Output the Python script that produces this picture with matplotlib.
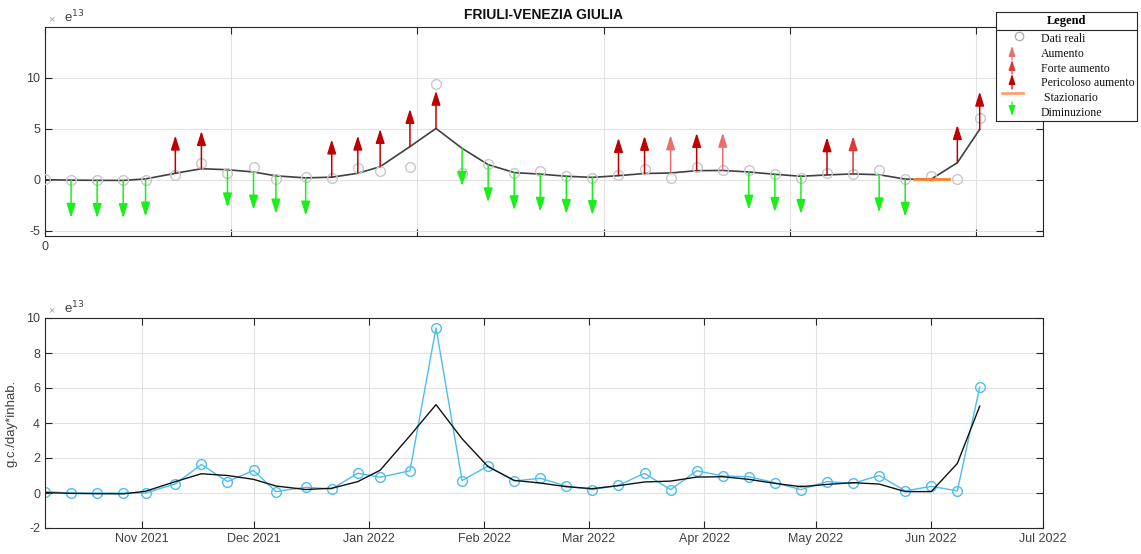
import matplotlib.pyplot as plt
import matplotlib.dates as mdates
import numpy as np
import pandas as pd

plt.rcParams['font.family'] = ['Liberation Sans', 'DejaVu Sans']
plt.rcParams['axes.unicode_minus'] = False

# weekly sampling dates
dates = pd.to_datetime([
    '2021-10-06', '2021-10-13', '2021-10-20', '2021-10-27', '2021-11-02', '2021-11-10',
    '2021-11-17', '2021-11-24', '2021-12-01', '2021-12-07', '2021-12-15', '2021-12-22',
    '2021-12-29', '2022-01-04', '2022-01-12', '2022-01-19', '2022-01-26', '2022-02-02',
    '2022-02-09', '2022-02-16', '2022-02-23', '2022-03-02', '2022-03-09', '2022-03-16',
    '2022-03-23', '2022-03-30', '2022-04-06', '2022-04-13', '2022-04-20', '2022-04-27',
    '2022-05-04', '2022-05-11', '2022-05-18', '2022-05-25', '2022-06-01', '2022-06-08',
    '2022-06-14'])

# values in units of 1e13
dati_reali = [0.08, 0.00, 0.00, 0.00, 0.00, 0.52, 1.63, 0.65, 1.29, 0.08, 0.33, 0.23,
              1.13, 0.90, 1.27, 9.44, 0.71, 1.55, 0.69, 0.84, 0.40, 0.19, 0.44, 1.12,
              0.19, 1.27, 0.97, 0.93, 0.59, 0.19, 0.65, 0.55, 1.00, 0.12, 0.38, 0.12,
              6.05]
trend = [0.02, -0.02, -0.04, -0.05, 0.10, 0.65, 1.10, 1.00, 0.78, 0.40, 0.20, 0.27,
         0.65, 1.30, 3.27, 5.05, 3.10, 1.50, 0.72, 0.57, 0.36, 0.25, 0.42, 0.63,
         0.68, 0.91, 0.93, 0.78, 0.55, 0.36, 0.49, 0.59, 0.51, 0.08, 0.08, 1.69,
         4.96]
# '' none, D diminuzione, S stazionario, A aumento, F forte aumento, P pericoloso aumento
categoria = ['', 'D', 'D', 'D', 'D', 'P', 'P', 'D', 'D', 'D', 'D', 'P',
             'P', 'P', 'P', 'P', 'D', 'D', 'D', 'D', 'D', 'D', 'P', 'P',
             'A', 'P', 'A', 'D', 'D', 'D', 'P', 'F', 'D', 'D', 'S', 'P',
             'P']

fine = pd.Timestamp('2022-07-01')
colori = {'A': '#EA6E6E', 'F': '#E03838', 'P': '#C00000', 'D': '#19F019'}
L_FRECCIA = 3.7
GRIGIO = '#262626'
TESTO = '#404040'

W, H = 1141, 554
fig = plt.figure(figsize=(W / 100, H / 100), dpi=100)
ax1 = fig.add_axes([45 / W, 1 - 236 / H, 998 / W, 209 / H])
ax2 = fig.add_axes([45 / W, 1 - 528 / H, 998 / W, 210 / H])

def stile(ax):
	ax.grid(True, color='#E2E2E2', lw=0.8)
	ax.set_axisbelow(True)
	ax.tick_params(direction='in', length=5, top=True, right=True, color=GRIGIO, labelcolor=TESTO, labelsize=9, width=0.8)
	for s in ax.spines.values():
		s.set_color(GRIGIO)
		s.set_linewidth(0.8)
	ax.text(0.003, 1.012, '×', transform=ax.transAxes, fontsize=8, color='#A0A0A0', va='bottom')
	ax.text(0.019, 1.01, 'e$^{13}$', transform=ax.transAxes, fontsize=9.5, color=TESTO, va='bottom')

# --- top plot: trend with arrows
giorni = np.array((dates - dates[0]).days)
ax1.plot(giorni, trend, color='#404040', lw=1.2, zorder=2)
ax1.plot(giorni, dati_reali, 'o', mfc='none', mec='#C8C8C8', ms=7, mew=1, zorder=3)
for g, t, c in zip(giorni, trend, categoria):
	if c == '':
		continue
	if c == 'S':
		ax1.plot([g - 4.7, g + 4.7], [t, t], color='#FF7F27', lw=2, zorder=4)
		continue
	fine_y = t - L_FRECCIA if c == 'D' else t + L_FRECCIA
	ax1.annotate('', xy=(g, fine_y), xytext=(g, t),
		arrowprops=dict(arrowstyle='-|>,head_length=0.85,head_width=0.27', color=colori[c],
			lw=1.1, shrinkA=0, shrinkB=0, mutation_scale=10), zorder=4)

ax1.set_xlim(0, (fine - dates[0]).days)
ax1.set_ylim(-5.5, 15)
ax1.set_yticks([-5, 0, 5, 10])
ax1.set_xticks(np.arange(0, 251, 50))
ax1.set_xticklabels(['0', '', '', '', '', ''])
ax1.set_title('FRIULI-VENEZIA GIULIA', fontsize=10, fontweight='bold', pad=6, color='#111111')
stile(ax1)

# --- bottom plot: real data and trend
ax2.plot(dates, dati_reali, '-o', color='#4DBEEE', mfc='none', ms=7, lw=1, mew=1)
ax2.plot(dates, trend, color='#111111', lw=1)
ax2.set_xlim(dates[0], fine)
ax2.set_ylim(-2, 10)
ax2.set_yticks(np.arange(-2, 11, 2))
ax2.xaxis.set_major_locator(mdates.MonthLocator(bymonthday=1))
ax2.xaxis.set_major_formatter(mdates.DateFormatter('%b %Y'))
ax2.set_ylabel('g.c./day*inhab.', fontsize=9.5, color=TESTO, labelpad=6)
stile(ax2)

# --- legend box
lax = fig.add_axes([996 / W, 1 - 121 / H, 141 / W, 109 / H])
lax.set_zorder(5)
lax.set_xlim(0, 141)
lax.set_ylim(109, 0)
lax.set_xticks([])
lax.set_yticks([])
for s in lax.spines.values():
	s.set_color(GRIGIO)
	s.set_linewidth(0.8)
lax.axhline(18, color=GRIGIO, lw=0.8)
serif = ['Liberation Serif', 'DejaVu Serif']
lax.text(70.5, 9, 'Legend', ha='center', va='center', fontweight='bold', family=serif, fontsize=9)
voci = ['Dati reali', 'Aumento', 'Forte aumento', 'Pericoloso aumento', ' Stazionario', 'Diminuzione']
y_voci = [27, 42, 57, 71, 86, 101]
for v, y in zip(voci, y_voci):
	lax.text(45, y, v, va='center', family=serif, fontsize=8.5, color='#111111')
lax.plot([23], [24], 'o', mfc='none', mec='#B0B0B0', ms=6, mew=1)
for (y0, y1), c in zip([(48, 34), (62, 48), (77, 62)], ['A', 'F', 'P']):
	lax.annotate('', xy=(16, y1), xytext=(16, y0),
		arrowprops=dict(arrowstyle='-|>,head_length=0.6,head_width=0.2', color=colori[c],
			lw=0.9, shrinkA=0, shrinkB=0, mutation_scale=10))
lax.plot([6, 27], [81, 81], color='#FFA070', lw=2)
lax.annotate('', xy=(16, 104), xytext=(16, 90),
	arrowprops=dict(arrowstyle='-|>,head_length=0.6,head_width=0.2', color=colori['D'],
		lw=0.9, shrinkA=0, shrinkB=0, mutation_scale=10))

fig.savefig('out.png', dpi=100)
